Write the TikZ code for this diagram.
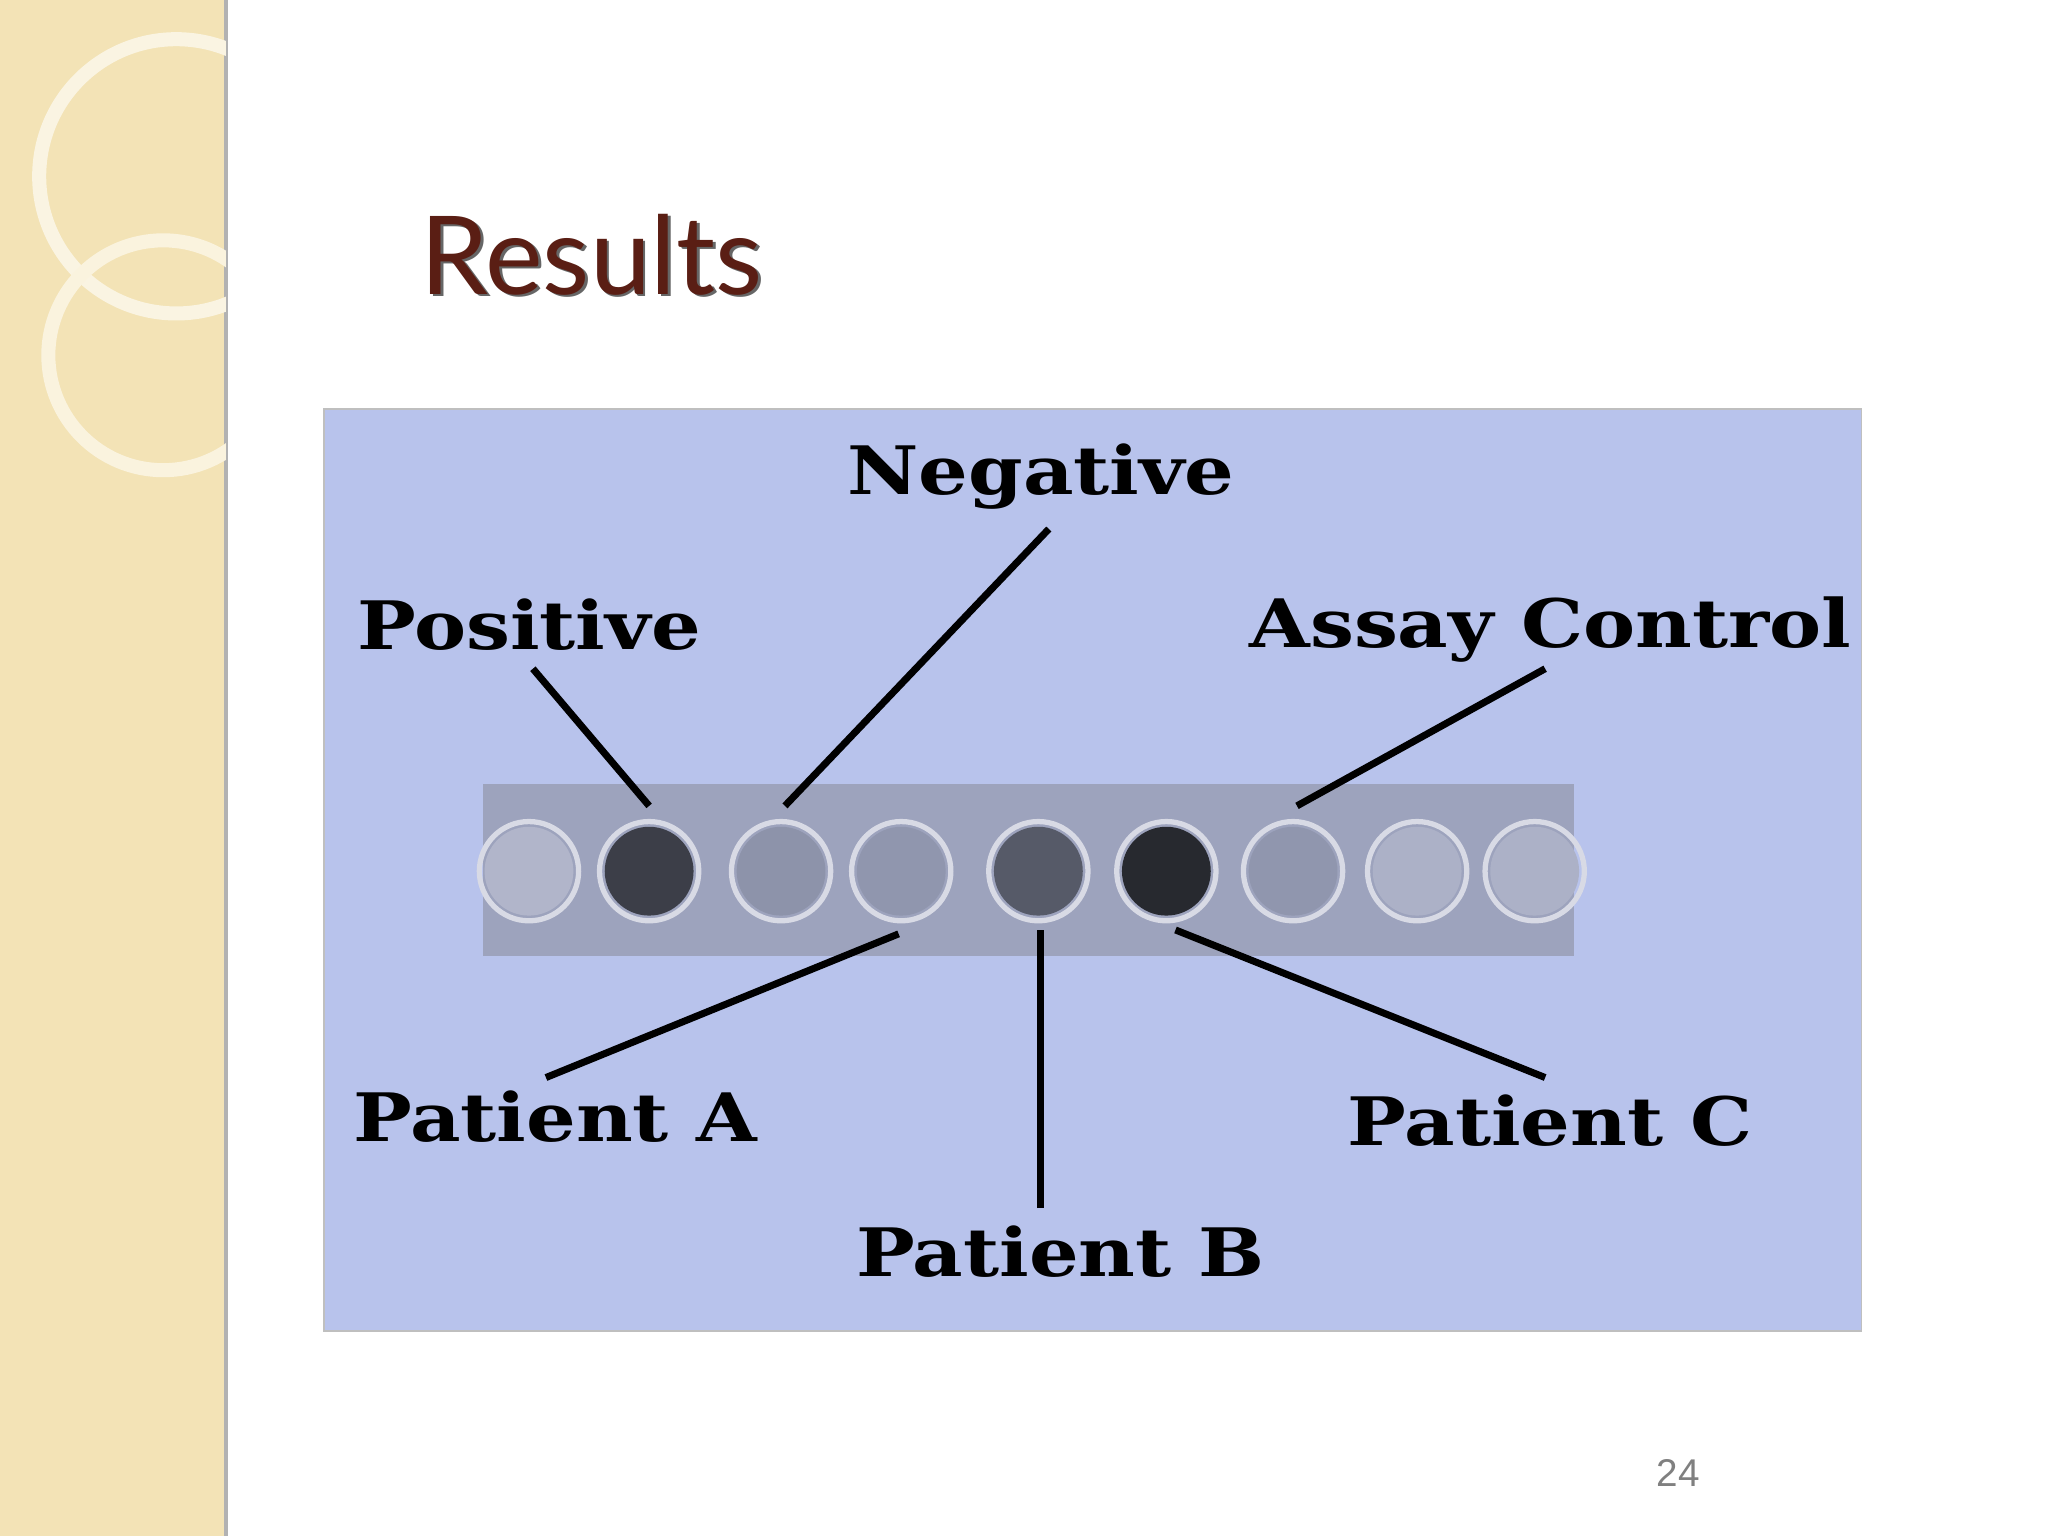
\documentclass[tikz,border=0pt]{standalone}
\usepackage{fontspec}
\setmainfont{DejaVu Serif}
\newfontfamily\titlefont{Lato}
\newfontfamily\numfont{Liberation Sans}
\definecolor{beige}{HTML}{F3E3B6}
\definecolor{plate}{HTML}{B8C3EC}
\definecolor{strip}{HTML}{9DA3BD}
\definecolor{titlec}{HTML}{5A1E14}
\newcommand{\wlab}[1]{\scalebox{1.17}[1]{#1}}
\begin{document}
\begin{tikzpicture}[x=0.013061cm,y=-0.013061cm,
  lab/.style={font=\bfseries\fontsize{19}{22}\selectfont,inner sep=0},
  lead/.style={line width=2pt,black},
  well/.style={draw=white!60!strip,line width=1.5pt}]
\useasboundingbox (0,0) rectangle (1568,1176);
\fill[white] (0,0) rectangle (1568,1176);
\fill[beige] (0,0) rectangle (173,1176);
\draw[gray!60,line width=1pt] (173,0) -- (173,1176);
\begin{scope}
\clip (0,0) rectangle (173,1176);
\draw[white!60!beige,line width=4pt] (135,135) circle (105);
\draw[white!55!beige,line width=4pt] (125,272) circle (88);
\end{scope}
\node[font=\titlefont\fontsize{31}{37}\selectfont,text=black!60] at (455,197) {Results};
\node[font=\titlefont\fontsize{31}{37}\selectfont,text=titlec] (title) at (453,195) {Results};
\fill[plate] (248,313) rectangle (1425,1019);
\draw[gray!50] (248,313) rectangle (1425,1019);
\fill[strip] (370,600) rectangle (1205,732);
\foreach \x/\c in {405/strip!80!white, 497/black!62!strip, 598/strip!90!black, 690/strip!92!black, 795/black!45!strip, 893/black!75!strip, 990/strip!92!black, 1085/strip!85!white, 1175/strip!85!white}{
  \fill[\c] (\x,667) circle (34);
  \draw[well] (\x,667) circle (38);
}
\coordinate (wPos) at (497,617);
\coordinate (wNeg) at (601,617);
\coordinate (wAC) at (993,617);
\coordinate (wA) at (688,715);
\coordinate (wB) at (797,712);
\coordinate (wC) at (900,712);
\node[lab] (neg) at (797,365) {\wlab{Negative}};
\node[lab] (pos) at (405,478) {\wlab{Positive}};
\node[lab] (ac) at (1187,482) {\wlab{Assay Control}};
\node[lab] (pa) at (425,855) {\wlab{Patient A}};
\node[lab] (pb) at (812,958) {\wlab{Patient B}};
\node[lab] (pc) at (1187,858) {\wlab{Patient C}};
\coordinate (ePos) at (408,512);
\coordinate (eNeg) at (803,405);
\coordinate (eAC) at (1183,512);
\coordinate (eA) at (418,825);
\coordinate (eB) at (797,925);
\coordinate (eC) at (1183,825);
\draw[lead] (ePos) -- (wPos);
\draw[lead] (eNeg) -- (wNeg);
\draw[lead] (eAC) -- (wAC);
\draw[lead] (eA) -- (wA);
\draw[lead] (eB) -- (wB);
\draw[lead] (eC) -- (wC);
\node[font=\numfont\fontsize{11}{13}\selectfont,text=gray] (pg) at (1285,1128) {24};
\end{tikzpicture}
\end{document}
